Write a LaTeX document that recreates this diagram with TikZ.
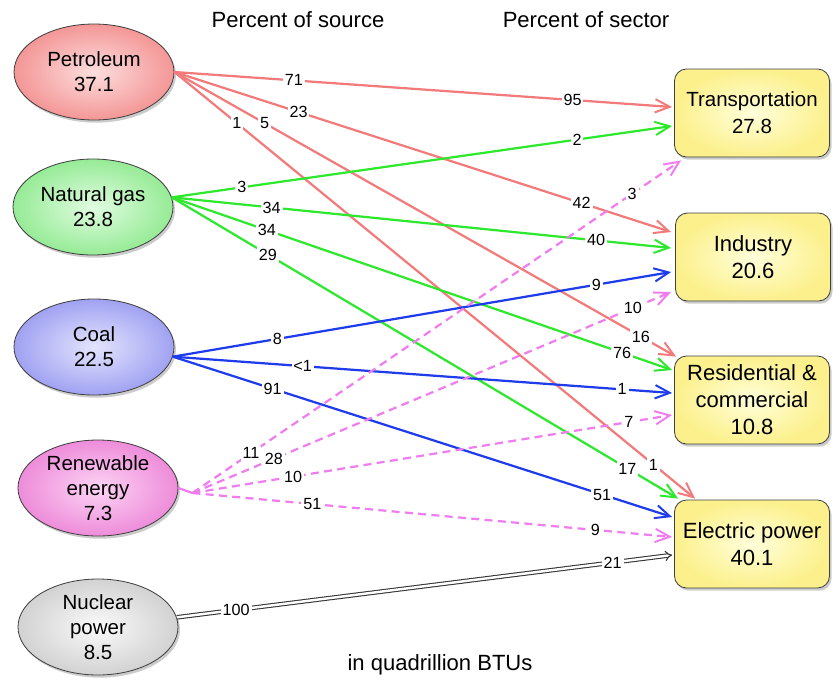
\documentclass[tikz,border=0pt]{standalone}
\usepackage{fontspec}
\setmainfont{Liberation Sans}
\usetikzlibrary{arrows.meta,shapes.geometric,shadows}
\definecolor{petline}{RGB}{243,122,122}
\definecolor{gasline}{RGB}{45,232,45}
\definecolor{coalline}{RGB}{30,60,235}
\definecolor{renline}{RGB}{240,125,240}
\definecolor{petin}{RGB}{253,222,222}
\definecolor{petout}{RGB}{244,150,150}
\definecolor{gasin}{RGB}{225,252,225}
\definecolor{gasout}{RGB}{150,235,150}
\definecolor{coalin}{RGB}{228,228,253}
\definecolor{coalout}{RGB}{160,162,242}
\definecolor{renin}{RGB}{252,212,244}
\definecolor{renout}{RGB}{238,140,218}
\definecolor{nucin}{RGB}{250,250,250}
\definecolor{nucout}{RGB}{210,210,210}
\definecolor{boxin}{RGB}{255,255,218}
\definecolor{boxout}{RGB}{252,240,140}
\begin{document}
\begin{tikzpicture}[x=0.3mm,y=-0.3mm,
    src/.style={ellipse,draw=black!75,line width=0.7pt,minimum width=48mm,
      minimum height=28.8mm,inner sep=0pt,align=center,
      font=\fontsize{17.5}{21.3}\selectfont,
      drop shadow={opacity=0.4,shadow xshift=0.6mm,shadow yshift=-0.8mm}},
    sec/.style={rectangle,rounded corners=3.6mm,draw=black!75,line width=0.7pt,
      minimum width=46.5mm,minimum height=26.4mm,inner sep=0pt,align=center,
      inner color=boxin,outer color=boxout,
      font=\fontsize{18.8}{23}\selectfont,
      drop shadow={opacity=0.4,shadow xshift=0.6mm,shadow yshift=-0.8mm}},
    lab/.style={fill=white,inner sep=1.6pt,font=\fontsize{13.8}{15}\selectfont},
    flow/.style={line width=1.9pt,-{Straight Barb[length=4.4mm,width=4mm,line width=1.7pt]}},
    petro/.style={flow,draw=petline},
    gasl/.style={flow,draw=gasline},
    coall/.style={flow,draw=coalline},
    renl/.style={flow,draw=renline,dash pattern=on 2.4mm off 1.6mm},
    nucl/.style={draw=black!80,line width=0.9pt,double=white,double distance=2.1pt,
      -{Implies[length=3.4mm]}}]
  \useasboundingbox (0,0) rectangle (833,686);
  % sources
  \node[src,inner color=petin,outer color=petout] (pet) at (94,72) {Petroleum\\37.1};
  \node[src,inner color=gasin,outer color=gasout] (gas) at (93,207) {Natural gas\\23.8};
  \node[src,inner color=coalin,outer color=coalout] (coal) at (94,347) {Coal\\22.5};
  \node[src,inner color=renin,outer color=renout] (ren) at (98,488) {Renewable\\energy\\7.3};
  \node[src,inner color=nucin,outer color=nucout] (nuc) at (98,627) {Nuclear\\power\\8.5};
  % sectors
  \node[sec,font=\fontsize{17.5}{23}\selectfont] (trans) at (752,113) {Transportation\\27.8};
  \node[sec] (ind) at (753,257) {Industry\\20.6};
  \node[sec] (res) at (752,400) {Residential \&\\commercial\\10.8};
  \node[sec] (elec) at (752,544) {Electric power\\40.1};
  % headings
  \node[font=\fontsize{18.8}{22}\selectfont] (srchead) at (298,20) {Percent of source};
  \node[font=\fontsize{18.8}{22}\selectfont] (sechead) at (586,20) {Percent of sector};
  \node[font=\fontsize{18.8}{22}\selectfont] (units) at (440,665) {in quadrillion BTUs};
  % petroleum
  \draw[petro] (pet.east) -- node[lab,pos=0.24] {71} node[lab,pos=0.80] {95} ([shift={(-2,-6)}]trans.west);
  \draw[petro] (pet.east) -- node[lab,pos=0.25] {23} node[lab,pos=0.82] {42} ([shift={(-4,-25)}]ind.west);
  \draw[petro] (pet.east) -- node[lab,pos=0.18] {5} node[lab,pos=0.93] {16} ([shift={(2,1)}]res.north west);
  \draw[petro] (pet.east) -- node[lab,pos=0.12] {1} node[lab,pos=0.92] {1} ([shift={(21,-1)}]elec.north west);
  % natural gas
  \draw[gasl] (gas.7) -- node[lab,pos=0.14] {3} node[lab,pos=0.81] {2} ([shift={(-2,13)}]trans.west);
  \draw[gasl] (gas.7) -- node[lab,pos=0.20] {34} node[lab,pos=0.85] {40} ([shift={(-4,-9)}]ind.west);
  \draw[gasl] (gas.7) -- node[lab,pos=0.19] {34} node[lab,pos=0.90] {76} ([shift={(-2,-30)}]res.west);
  \draw[gasl] (gas.7) -- node[lab,pos=0.19] {29} node[lab,pos=0.90] {17} ([shift={(4,-1)}]elec.north west);
  % coal
  \draw[coall] (coal.-7) -- node[lab,pos=0.21] {8} node[lab,pos=0.85] {9} ([shift={(-4,15)}]ind.west);
  \draw[coall] (coal.-7) -- node[lab,pos=0.26] {<1} node[lab,pos=0.90] {1} ([shift={(-2,-7)}]res.west);
  \draw[coall] (coal.-7) -- node[lab,pos=0.20] {91} node[lab,pos=0.86] {51} ([shift={(-2,-27)}]elec.west);
  % renewable
  \coordinate (rhub) at ([shift={(14,5)}]ren.east);
  \draw[renline,line width=1.9pt] (ren.east) -- (rhub);
  \draw[renl] (rhub) -- node[lab,pos=0.12] {11} node[lab,pos=0.90] {3} ([shift={(7,3)}]trans.south west);
  \draw[renl] (rhub) -- node[lab,pos=0.17] {28} node[lab,pos=0.92] {10} ([shift={(-4,35)}]ind.west);
  \draw[renl] (rhub) -- node[lab,pos=0.21] {10} node[lab,pos=0.91] {7} ([shift={(-2,15)}]res.west);
  \draw[renl] (rhub) -- node[lab,pos=0.25] {51} node[lab,pos=0.84] {9} ([shift={(-2,-7)}]elec.west);
  % nuclear
  \draw[nucl] (nuc.7) -- node[lab,pos=0.12] {100} node[lab,pos=0.88] {21} ([shift={(-2,11)}]elec.west);
\end{tikzpicture}
\end{document}
